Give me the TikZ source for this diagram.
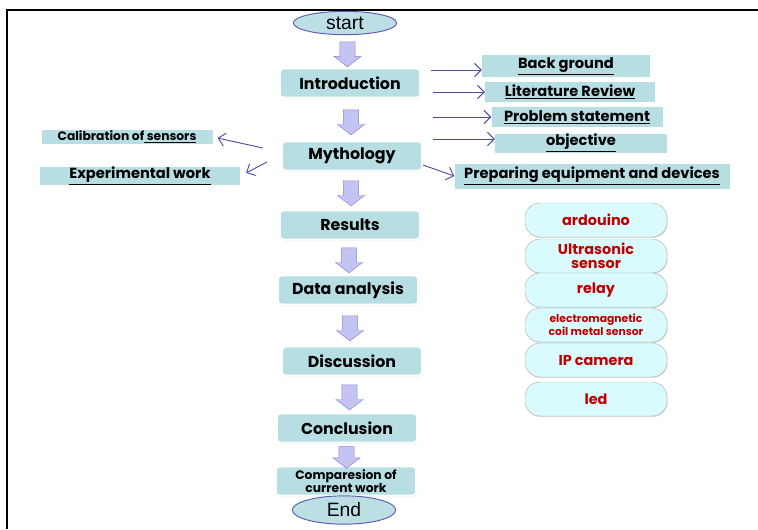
\documentclass[tikz,border=0pt]{standalone}
\usepackage{fontspec}
\setmainfont{Liberation Sans}
\newfontfamily\boxfont{Poppins}
\usepackage{tikz}
\usetikzlibrary{positioning, calc}
\usetikzlibrary{shapes.geometric, shapes.arrows, shadows, arrows.meta}

\definecolor{stepfill}{HTML}{B7DEE3}
\definecolor{ovalline}{HTML}{5B5BB0}
\definecolor{ovalfill}{HTML}{BCDFE6}
\definecolor{arrowfill}{HTML}{C4C4F2}
\definecolor{arrowline}{HTML}{8686D6}
\definecolor{linkcol}{HTML}{4D4DA6}
\definecolor{partfill}{HTML}{DAFBFD}
\definecolor{partline}{HTML}{B4B4B4}
\definecolor{parttext}{HTML}{C00000}

\begin{document}
\begin{tikzpicture}[x=0.3mm, y=-0.3mm,
    oval/.style={ellipse, draw=ovalline, fill=ovalfill, thick, minimum width=31mm, minimum height=7mm, inner sep=0pt, font=\fontsize{16.5}{17}\selectfont},
    stepbox/.style={rectangle, rounded corners=3pt, fill=stepfill, draw=white, line width=1.5pt, drop shadow={shadow xshift=0.6pt, shadow yshift=-0.8pt, opacity=0.35}, minimum width=42mm, minimum height=8.7mm, inner sep=0pt, font=\boxfont\bfseries\fontsize{13.5}{14}\selectfont},
    downarrow/.style={single arrow, shape border rotate=270, draw=arrowline, fill=arrowfill, inner sep=2.2mm, minimum width=8mm, minimum height=7.5mm, single arrow tip angle=105, single arrow head extend=1.8mm},
    topic/.style={rectangle, fill=stepfill, inner sep=0pt, font=\boxfont\bfseries\fontsize{12.5}{13}\selectfont},
    part/.style={rectangle, rounded corners=4.5mm, draw=partline, fill=partfill, drop shadow={shadow xshift=0.6pt, shadow yshift=-0.8pt, opacity=0.3}, minimum width=42.6mm, minimum height=10.2mm, inner sep=0pt, align=center, text=parttext, font=\boxfont\bfseries\fontsize{12.3}{12}\selectfont},
    link/.style={linkcol, thick, -{Straight Barb[length=2mm]}}
  ]
    \useasboundingbox (0,0) rectangle (758,529);

    % Frame
    \draw[line width=0.7mm] (7,529) -- (7,10) -- (758,10);

    % Main flow
    \node[oval] (start) at (345,23) {start};
    \node[stepbox] (intro) at (350,83) {Introduction};
    \node[stepbox] (myth) at (352,156) {Mythology};
    \node[stepbox] (res) at (350,225) {Results};
    \node[stepbox] (data) at (348,290) {Data analysis};
    \node[stepbox] (disc) at (352,361) {Discussion};
    \node[stepbox] (concl) at (347,428) {Conclusion};
    \node[stepbox, font=\boxfont\bfseries\fontsize{10.5}{10}\selectfont, align=center] (comp) at (346,481) {Comparesion of\\current work};
    \node[oval, minimum height=8.5mm] (end) at (344,510) {End};

    % Block arrows between steps
    \node[downarrow] (a1) at ($(start.south)!0.5!(intro.north)$) {};
    \node[downarrow] (a2) at ($(intro.south)!0.5!(myth.north)$) {};
    \node[downarrow] (a3) at ($(myth.south)!0.5!(res.north)$) {};
    \node[downarrow] (a4) at ($(res.south)!0.5!(data.north)$) {};
    \node[downarrow] (a5) at ($(data.south)!0.5!(disc.north)$) {};
    \node[downarrow] (a6) at ($(disc.south)!0.5!(concl.north)$) {};
    \node[downarrow, minimum height=6.5mm] (a7) at ($(concl.south)!0.5!(comp.north)$) {};

    % Topics on the right
    \node[topic, minimum width=50.4mm, minimum height=6.6mm] (bg) at (566,66) {\underline{Back ground}};
    \node[topic, minimum width=51mm, minimum height=6mm] (lit) at (570,92) {\underline{Literature\ Review}};
    \node[topic, minimum width=51.3mm, minimum height=6mm] (prob) at (577,117) {\underline{Problem statement}};
    \node[topic, minimum width=51.6mm, minimum height=5.7mm] (obj) at (581,143) {\underline{objective}};
    \node[topic, minimum width=82.5mm, minimum height=7.5mm] (prep) at (592,176) {\underline{Preparing equipment and devices}};

    % Topics on the left
    \node[topic, minimum width=51.3mm, minimum height=4.2mm, font=\boxfont\bfseries\fontsize{10.5}{11}\selectfont] (calib) at (127,137) {Calibration of\underline{\ sensors}};
    \node[topic, minimum width=60mm, minimum height=5.4mm] (expw) at (140,176) {\underline{Experimental work}};

    % Links
    \coordinate (t1) at (431,70);
    \coordinate (t2) at (433,92);
    \coordinate (t3) at (433,117);
    \coordinate (t4) at (433,139);
    \coordinate (t5) at (423,165);
    \coordinate (t6) at (263,148);
    \coordinate (t7) at (267,162);
    \draw[link] (t1) -- (t1 -| bg.west);
    \draw[link] (t2) -- (t2 -| lit.west);
    \draw[link] (t3) -- (t3 -| prob.west);
    \draw[link] (t4) -- (t4 -| obj.west);
    \draw[link] (t5) -- (prep.west);
    \draw[link, shorten >=1.5mm] (t6) -- (calib.east);
    \draw[link, shorten >=2mm] (t7) -- (expw.east);

    % Devices
    \node[part] (ard) at (596,220) {ardouino};
    \node[part] (ultra) at (596,256) {Ultrasonic\\sensor};
    \node[part] (relay) at (596,290) {relay};
    \node[part, font=\boxfont\bfseries\fontsize{9.2}{9.5}\selectfont] (coil) at (596,325) {electromagnetic\\coil metal sensor};
    \node[part] (cam) at (596,360) {IP camera};
    \node[part] (led) at (596,399) {led};

\end{tikzpicture}
\end{document}
